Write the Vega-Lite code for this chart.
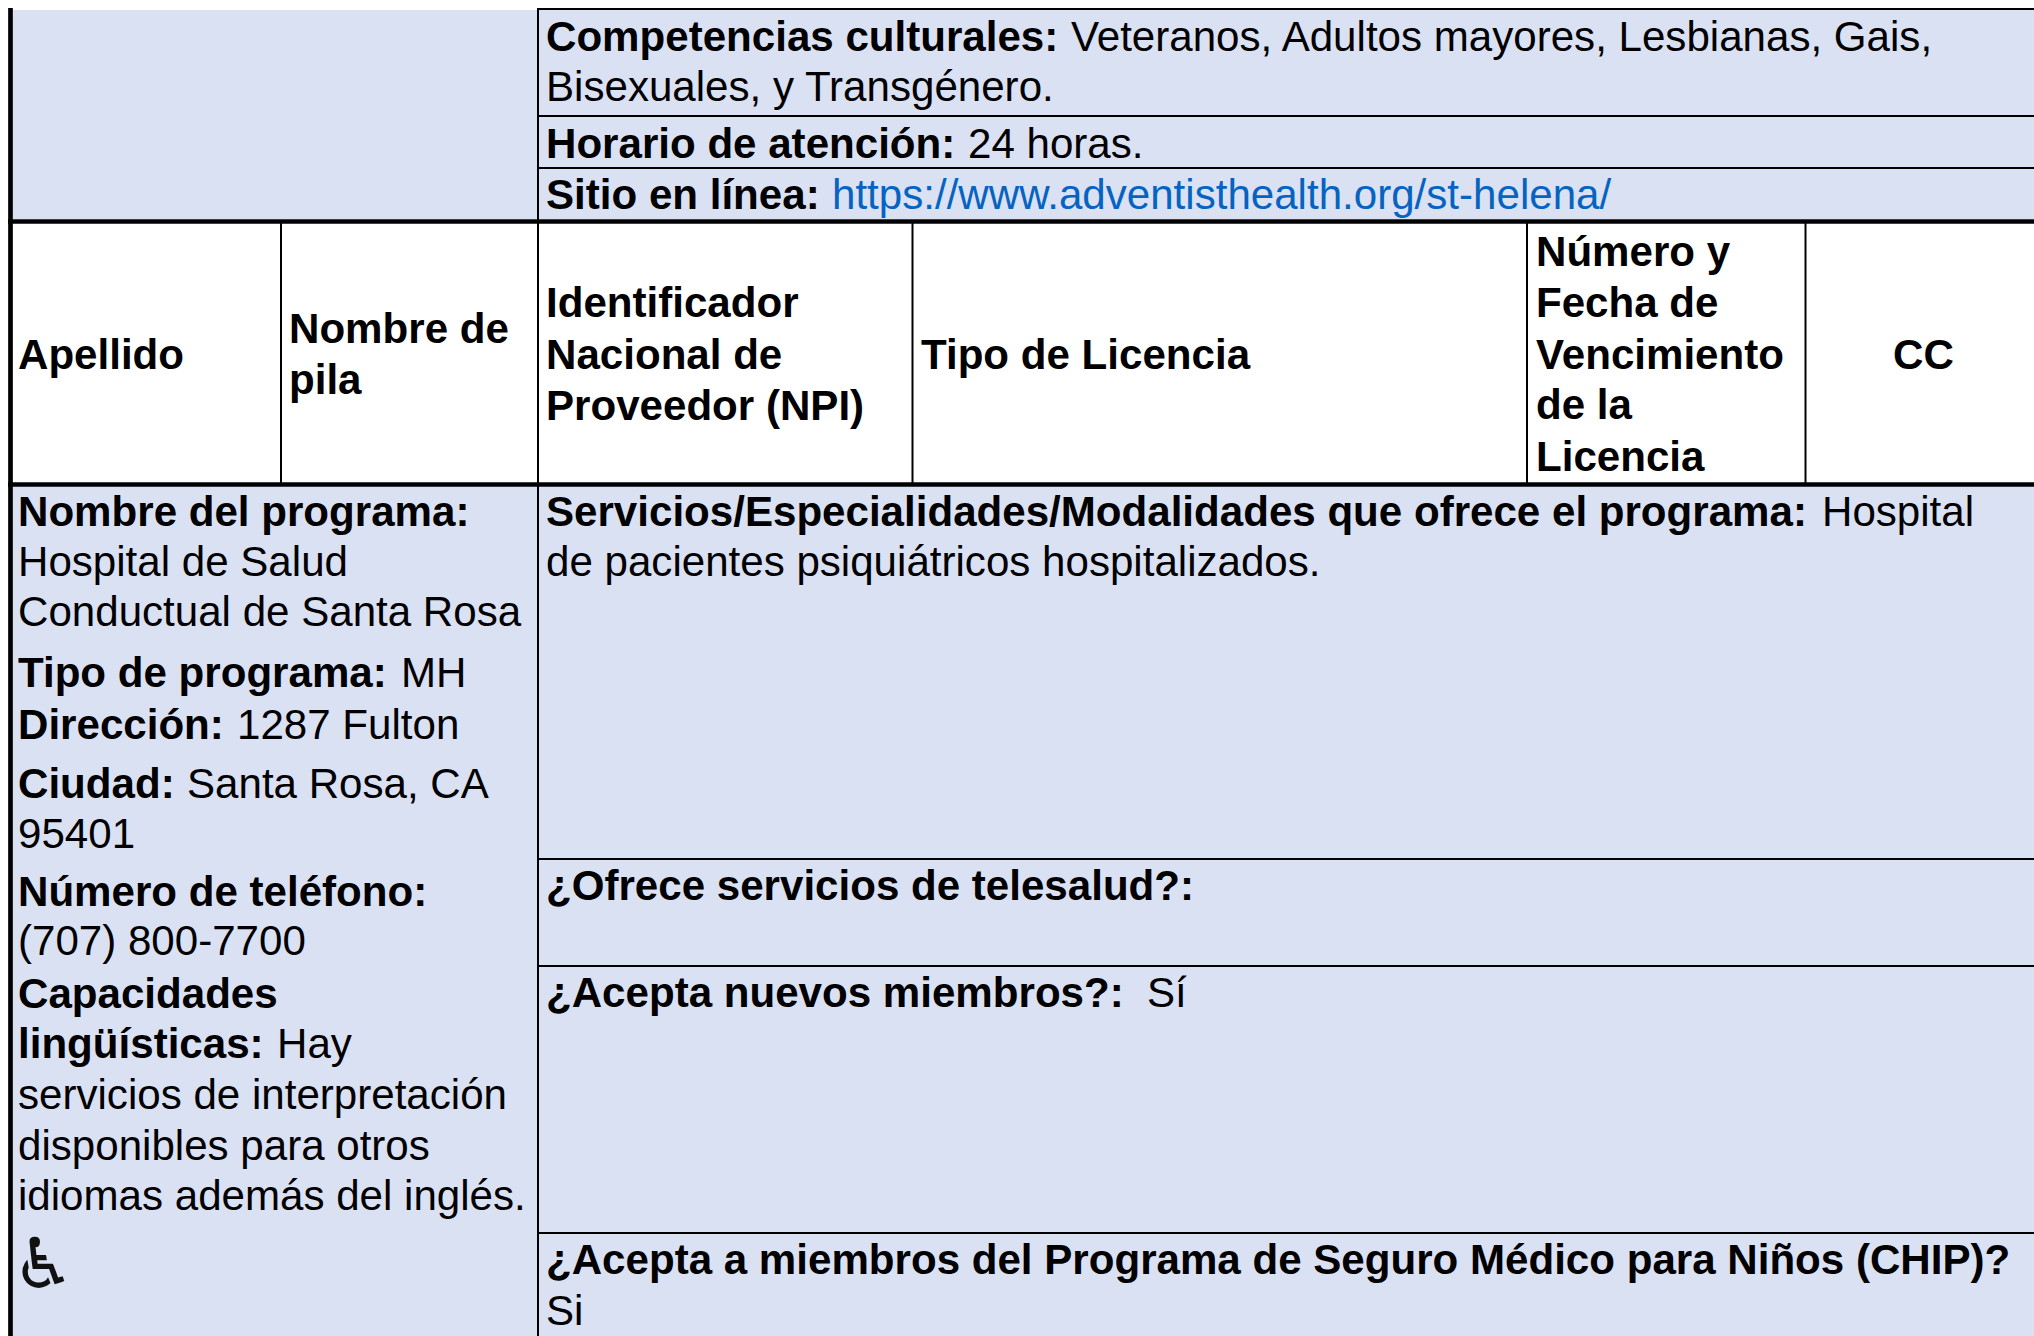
{
"$schema":"https://vega.github.io/schema/vega-lite/v6.json",
"width":2034,"height":1336,"padding":0,
"autosize":"none",
"background":"#ffffff",
"view":{"stroke":null},
"config":{"text":{"font":"Liberation Sans","fontSize":42.1,"align":"left","baseline":"alphabetic"}},
"datasets":{
"cells":[
{"x0":13,"x1":2034,"y0":10,"y1":219},
{"x0":13,"x1":2034,"y0":486,"y1":1336}
],
"lines":[
{"x0":538,"x1":2034,"y0":9,"y1":9,"w":"thin"},
{"x0":538,"x1":2034,"y0":116,"y1":116,"w":"thin"},
{"x0":538,"x1":2034,"y0":168,"y1":168,"w":"thin"},
{"x0":8,"x1":2034,"y0":221.5,"y1":221.5,"w":"thick"},
{"x0":8,"x1":2034,"y0":484.5,"y1":484.5,"w":"thick"},
{"x0":538,"x1":2034,"y0":859,"y1":859,"w":"thin"},
{"x0":538,"x1":2034,"y0":966,"y1":966,"w":"thin"},
{"x0":538,"x1":2034,"y0":1233,"y1":1233,"w":"thin"},
{"x0":10.5,"x1":10.5,"y0":8,"y1":1336,"w":"thick"},
{"x0":538,"x1":538,"y0":8,"y1":1336,"w":"thin"},
{"x0":281,"x1":281,"y0":222,"y1":484,"w":"thin"},
{"x0":912.5,"x1":912.5,"y0":222,"y1":484,"w":"thin"},
{"x0":1527,"x1":1527,"y0":222,"y1":484,"w":"thin"},
{"x0":1805.5,"x1":1805.5,"y0":222,"y1":484,"w":"thin"}
],
"labels":[
{"x":546,"y":51,"t":"Competencias culturales:","b":"bold","k":"text"},
{"x":1071,"y":51,"t":"Veteranos, Adultos mayores, Lesbianas, Gais,","b":"normal","k":"text"},
{"x":546,"y":101,"t":"Bisexuales, y Transgénero.","b":"normal","k":"text"},
{"x":546,"y":158,"t":"Horario de atención:","b":"bold","k":"text"},
{"x":968,"y":158,"t":"24 horas.","b":"normal","k":"text"},
{"x":546,"y":209,"t":"Sitio en línea:","b":"bold","k":"text"},
{"x":832,"y":209,"t":"https://www.adventisthealth.org/st-helena/","b":"normal","k":"link"},
{"x":18,"y":369,"t":"Apellido","b":"bold","k":"text"},
{"x":289,"y":343,"t":"Nombre de","b":"bold","k":"text"},
{"x":289,"y":394,"t":"pila","b":"bold","k":"text"},
{"x":546,"y":317,"t":"Identificador","b":"bold","k":"text"},
{"x":546,"y":369,"t":"Nacional de","b":"bold","k":"text"},
{"x":546,"y":420,"t":"Proveedor (NPI)","b":"bold","k":"text"},
{"x":921,"y":369,"t":"Tipo de Licencia","b":"bold","k":"text"},
{"x":1536,"y":266,"t":"Número y","b":"bold","k":"text"},
{"x":1536,"y":317,"t":"Fecha de","b":"bold","k":"text"},
{"x":1536,"y":369,"t":"Vencimiento","b":"bold","k":"text"},
{"x":1536,"y":419,"t":"de la","b":"bold","k":"text"},
{"x":1536,"y":471,"t":"Licencia","b":"bold","k":"text"},
{"x":1893,"y":369,"t":"CC","b":"bold","k":"text"},
{"x":18,"y":526,"t":"Nombre del programa:","b":"bold","k":"text"},
{"x":18,"y":576,"t":"Hospital de Salud","b":"normal","k":"text"},
{"x":18,"y":626,"t":"Conductual de Santa Rosa","b":"normal","k":"text"},
{"x":18,"y":687,"t":"Tipo de programa:","b":"bold","k":"text"},
{"x":401,"y":687,"t":"MH","b":"normal","k":"text"},
{"x":18,"y":739,"t":"Dirección:","b":"bold","k":"text"},
{"x":237,"y":739,"t":"1287 Fulton","b":"normal","k":"text"},
{"x":18,"y":798,"t":"Ciudad:","b":"bold","k":"text"},
{"x":187,"y":798,"t":"Santa Rosa, CA","b":"normal","k":"text"},
{"x":18,"y":848,"t":"95401","b":"normal","k":"text"},
{"x":18,"y":906,"t":"Número de teléfono:","b":"bold","k":"text"},
{"x":18,"y":955,"t":"(707) 800-7700","b":"normal","k":"text"},
{"x":18,"y":1008,"t":"Capacidades","b":"bold","k":"text"},
{"x":18,"y":1058,"t":"lingüísticas:","b":"bold","k":"text"},
{"x":277,"y":1058,"t":"Hay","b":"normal","k":"text"},
{"x":18,"y":1109,"t":"servicios de interpretación","b":"normal","k":"text"},
{"x":18,"y":1160,"t":"disponibles para otros","b":"normal","k":"text"},
{"x":18,"y":1210,"t":"idiomas además del inglés.","b":"normal","k":"text"},
{"x":546,"y":526,"t":"Servicios/Especialidades/Modalidades que ofrece el programa:","b":"bold","k":"text"},
{"x":1822,"y":526,"t":"Hospital","b":"normal","k":"text"},
{"x":546,"y":576,"t":"de pacientes psiquiátricos hospitalizados.","b":"normal","k":"text"},
{"x":546,"y":900,"t":"¿Ofrece servicios de telesalud?:","b":"bold","k":"text"},
{"x":546,"y":1007,"t":"¿Acepta nuevos miembros?:","b":"bold","k":"text"},
{"x":1147,"y":1007,"t":"Sí","b":"normal","k":"text"},
{"x":546,"y":1274,"t":"¿Acepta a miembros del Programa de Seguro Médico para Niños (CHIP)?","b":"bold","k":"text"},
{"x":546,"y":1325,"t":"Si","b":"normal","k":"text"}
],
"icons":[{"x":12,"y":1288,"t":"♿"}]
},
"layer":[
{"data":{"name":"cells"},"mark":{"type":"rect","fill":"#DAE1F3"},
 "encoding":{
  "x":{"field":"x0","type":"quantitative","axis":null,"scale":{"domain":[0,2034],"nice":false,"zero":false}},
  "x2":{"field":"x1"},
  "y":{"field":"y0","type":"quantitative","axis":null,"scale":{"domain":[1336,0],"nice":false,"zero":false}},
  "y2":{"field":"y1"}}},
{"data":{"name":"lines"},"mark":{"type":"rule","color":"#000000"},
 "encoding":{
  "x":{"field":"x0","type":"quantitative","axis":null},
  "x2":{"field":"x1"},
  "y":{"field":"y0","type":"quantitative","axis":null},
  "y2":{"field":"y1"},
  "strokeWidth":{"field":"w","type":"nominal","legend":null,"scale":{"domain":["thin","thick"],"range":[2,4.7]}}}},
{"data":{"name":"labels"},"transform":[{"filter":"datum.b==='normal'"}],"mark":{"type":"text","fontWeight":"normal"},
 "encoding":{
  "x":{"field":"x","type":"quantitative","axis":null},
  "y":{"field":"y","type":"quantitative","axis":null},
  "text":{"field":"t"},
  "color":{"field":"k","type":"nominal","legend":null,"scale":{"domain":["text","link"],"range":["#000000","#0563C1"]}}}},
{"data":{"name":"labels"},"transform":[{"filter":"datum.b==='bold'"}],"mark":{"type":"text","fontWeight":"bold"},
 "encoding":{
  "x":{"field":"x","type":"quantitative","axis":null},
  "y":{"field":"y","type":"quantitative","axis":null},
  "text":{"field":"t"},
  "color":{"field":"k","type":"nominal","legend":null,"scale":{"domain":["text","link"],"range":["#000000","#0563C1"]}}}},
{"data":{"name":"icons"},"mark":{"type":"text","font":"DejaVu Sans","fontSize":70,"color":"#111111"},
 "encoding":{
  "x":{"field":"x","type":"quantitative","axis":null},
  "y":{"field":"y","type":"quantitative","axis":null},
  "text":{"field":"t"}}}
]
}
